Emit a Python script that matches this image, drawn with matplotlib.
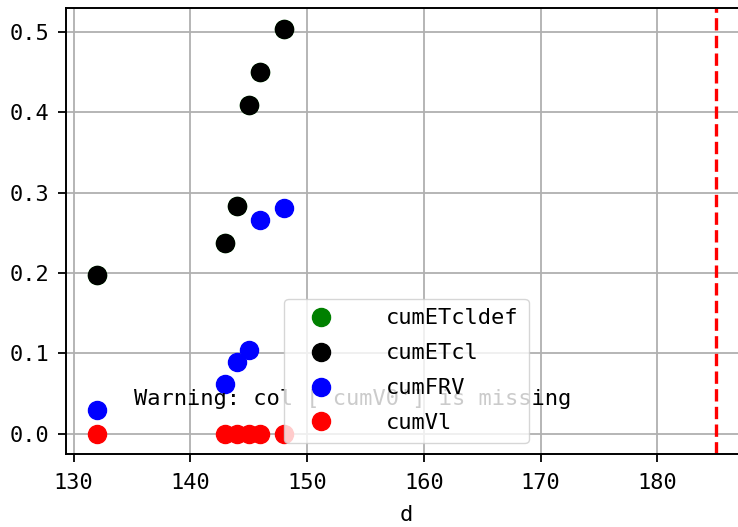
import matplotlib
matplotlib.use("Agg")
import matplotlib.pyplot as plt

days = [132, 143, 144, 145, 146, 148]
cumETcldef = [0.197, 0.237, 0.283, 0.409, 0.450, 0.504]
cumETcl = [0.197, 0.237, 0.283, 0.409, 0.450, 0.504]
cumFRV = [0.030, 0.062, 0.089, 0.104, 0.266, 0.281]
cumVl = [0.0, 0.0, 0.0, 0.0, 0.0, 0.0]
series = [("cumETcldef", cumETcldef, "green"),
          ("cumETcl", cumETcl, "black"),
          ("cumFRV", cumFRV, "blue"),
          ("cumVl", cumVl, "red")]
vline_x = 185
warning = "Warning: col ['cumV0'] is missing"
xlabel = "d"

FS = 15.8
plt.rcParams['font.family'] = ['DejaVu Sans Mono']
plt.rcParams['font.size'] = FS

fig = plt.figure(figsize=(7.38, 5.27), dpi=100)
ax = fig.add_axes([0.0894, 0.1385, 0.9224, 0.8455])

for name, vals, col in series:
    ax.plot(days, vals, 'o', ls='none', color=col, ms=13, label=name, zorder=2)

ax.axvline(vline_x, color='red', ls='--', lw=2.4)

ax.text(0.1, 0.11, warning, transform=ax.transAxes, fontsize=FS, zorder=3)

ax.grid(True, color='#b0b0b0', lw=1.3)
for sp in ax.spines.values():
    sp.set_linewidth(1.4)
ax.tick_params(length=6, width=1.3, pad=6, labelsize=FS)
ax.tick_params(axis='x', pad=8)
ax.set_xlabel(xlabel, fontsize=FS, labelpad=8)
ax.set_xticks([130, 140, 150, 160, 170, 180])
ax.set_yticks([0.0, 0.1, 0.2, 0.3, 0.4, 0.5])

ax.legend(loc='lower center', fontsize=FS, handlelength=2.5, handletextpad=1.7,
          labelspacing=0.68, borderpad=0.45)

fig.savefig("out.png", dpi=100)
